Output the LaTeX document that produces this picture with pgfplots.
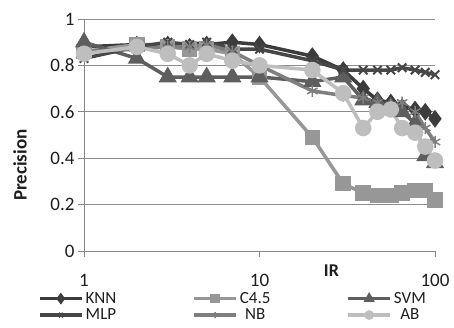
\documentclass[border=0pt]{standalone}
\usepackage{fontspec}
\setmainfont{Carlito}
\usepackage{pgfplots}
\pgfplotsset{compat=1.18}
\definecolor{cKNN}{HTML}{3C3C3C}
\definecolor{cC}{HTML}{979797}
\definecolor{cSVM}{HTML}{5E5E5E}
\definecolor{cMLP}{HTML}{474747}
\definecolor{cNB}{HTML}{7E7E7E}
\definecolor{cAB}{HTML}{BEBEBE}
\definecolor{axisgray}{HTML}{868686}
\definecolor{gridgray}{HTML}{8C8C8C}
\definecolor{txt}{HTML}{1E1E1E}
\begin{document}
\begin{tikzpicture}[x=1pt,y=1pt]
\path[use as bounding box] (-84,-76) rectangle (370,251);
\begin{axis}[
 at={(0,0)}, anchor=south west,
 scale only axis, width=351pt, height=232pt,
 clip=false,
 xmode=log, xmin=1, xmax=100, ymin=0, ymax=1,
 axis lines=left, axis line style={-, draw=axisgray, line width=0.8pt},
 xtick={1,10,100}, xticklabels={1,10,100},
 ytick={0,0.2,0.4,0.6,0.8,1}, yticklabels={0,0.2,0.4,0.6,0.8,1},
 xminorticks=false,
 ymajorgrids, grid style={draw=gridgray, line width=0.8pt},
 tick align=outside, major tick length=6pt,
 tick style={draw=axisgray, line width=0.8pt},
 ticklabel style={font=\fontsize{19}{22}\selectfont, text=txt},
 xticklabel style={inner sep=2pt, yshift=-15pt},
 xlabel={\textbf{IR}},
 xlabel style={at={(axis description cs:0.705,-0.086)}, anchor=center, inner sep=1pt, font=\fontsize{18}{21}\selectfont, text=txt},
 legend columns=3,
 legend style={at={(axis description cs:-0.14,-0.16)}, anchor=north west, draw=none, fill=none,
   font=\fontsize{17}{20}\selectfont, text=txt, row sep=0pt,
   /tikz/every even column/.append style={column sep=74pt}},
 legend image code/.code={\draw[#1, mark indices={2}, mark size=3pt] plot coordinates {(0pt,0pt) (21pt,0pt) (42pt,0pt)};},
 every axis plot/.append style={line width=3.5pt, mark options={solid}},
]
\addplot[color=cKNN, mark=diamond*, mark size=6pt] coordinates {
(1,0.88) (2,0.89) (3,0.89) (4,0.88) (5,0.89) (7,0.90) (10,0.89) (20,0.84) (30,0.78) (39,0.70) (47,0.65) (56,0.64) (65,0.62) (77,0.61) (88,0.60) (100,0.57)};
\addlegendentry{KNN}
\addplot[color=cC, mark=square*, mark size=6pt] coordinates {
(1,0.86) (2,0.89) (3,0.88) (4,0.87) (5,0.87) (7,0.85) (10,0.75) (20,0.49) (30,0.29) (39,0.25) (47,0.24) (56,0.24) (65,0.25) (77,0.26) (88,0.26) (100,0.22)};
\addlegendentry{C4.5}
\addplot[color=cSVM, mark=triangle*, mark size=7pt] coordinates {
(1,0.90) (2,0.83) (3,0.75) (4,0.75) (5,0.75) (7,0.75) (10,0.75) (20,0.73) (30,0.75) (39,0.65) (47,0.64) (56,0.62) (65,0.60) (77,0.55) (88,0.41) (100,0.38)};
\addlegendentry{SVM}
\addplot[color=cMLP, mark=x, mark size=6pt, mark options={line width=2pt}] coordinates {
(1,0.83) (2,0.88) (3,0.90) (4,0.89) (5,0.90) (7,0.87) (10,0.87) (20,0.82) (30,0.78) (39,0.78) (47,0.78) (56,0.78) (65,0.79) (77,0.78) (88,0.77) (100,0.76)};
\addlegendentry{MLP}
\addplot[color=cNB, mark=asterisk, mark size=6pt, mark options={line width=1.5pt}] coordinates {
(1,0.86) (2,0.87) (3,0.88) (4,0.88) (5,0.89) (7,0.86) (10,0.80) (20,0.69) (30,0.67) (39,0.66) (47,0.64) (56,0.63) (65,0.64) (77,0.60) (88,0.53) (100,0.47)};
\addlegendentry{NB}
\addplot[color=cAB, mark=*, mark size=6.5pt] coordinates {
(1,0.85) (2,0.88) (3,0.85) (4,0.80) (5,0.85) (7,0.82) (10,0.80) (20,0.78) (30,0.68) (39,0.53) (47,0.60) (56,0.61) (65,0.53) (77,0.51) (88,0.45) (100,0.39)};
\addlegendentry{AB}
\node[rotate=90, anchor=center, font=\fontsize{19}{22}\selectfont\bfseries, text=txt] at (axis description cs:-0.182,0.37) {Precision};
\end{axis}
\end{tikzpicture}
\end{document}
